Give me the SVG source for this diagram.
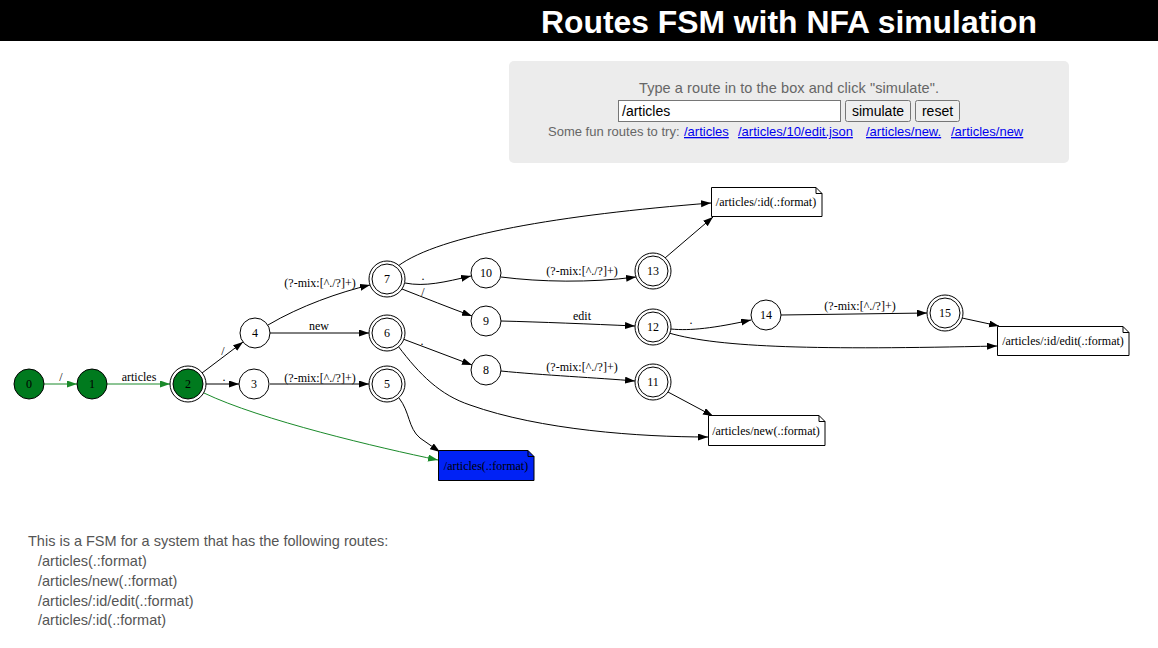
<svg xmlns="http://www.w3.org/2000/svg" width="1158" height="648" viewBox="0 0 1158 648">
<style>
.st{fill:#fff;stroke:#000;stroke-width:1}
.acc{fill:#007a1e;stroke:#000;stroke-width:1}
.lbl{font-family:"Liberation Serif",serif;font-size:12px;fill:#000;text-anchor:middle}
.e{fill:none;stroke:#000;stroke-width:1;marker-end:url(#ah)}
.g{fill:none;stroke:#1a8a2a;stroke-width:1;marker-end:url(#ahg)}
.note{fill:#fff;stroke:#000;stroke-width:1}
.ui{font-family:"Liberation Sans",Arial,sans-serif}
.btn{fill:#efefef;stroke:#767676;stroke-width:1}
.lnk{fill:#0000ee;text-decoration:underline}
</style>
<defs>
<marker id="ah" markerUnits="userSpaceOnUse" markerWidth="10" markerHeight="8" refX="10" refY="3.5" orient="auto"><path d="M0,0 L10,3.5 L0,7 z" fill="#000"/></marker>
<marker id="ahg" markerUnits="userSpaceOnUse" markerWidth="10" markerHeight="8" refX="10" refY="3.5" orient="auto"><path d="M0,0 L10,3.5 L0,7 z" fill="#1a8a2a"/></marker>
</defs>
<rect x="0" y="0" width="1158" height="648" fill="#fff"/>
<rect x="0" y="0" width="1158" height="41" fill="#000"/>
<text x="789" y="33" class="ui" font-size="31" font-weight="bold" fill="#fff" text-anchor="middle" textLength="496" lengthAdjust="spacingAndGlyphs">Routes FSM with NFA simulation</text>

<g id="panel">
<rect x="509" y="61" width="560" height="102" rx="5" fill="#ececec"/>
<text x="789" y="93" class="ui" font-size="14.5" fill="#666" text-anchor="middle" textLength="300">Type a route in to the box and click "simulate".</text>
<rect x="618.5" y="100.5" width="222" height="21" fill="#fff" stroke="#767676"/>
<text x="622" y="116" class="ui" font-size="14" fill="#000">/articles</text>
<rect x="845.5" y="100.5" width="65" height="21" rx="2" class="btn"/>
<text x="878" y="116" class="ui" font-size="14" fill="#000" text-anchor="middle">simulate</text>
<rect x="915.5" y="100.5" width="44" height="21" rx="2" class="btn"/>
<text x="937.5" y="116" class="ui" font-size="14" fill="#000" text-anchor="middle">reset</text>
<text y="136" class="ui" font-size="13" fill="#666"><tspan x="548">Some fun routes to try: </tspan><tspan x="684" class="lnk">/articles</tspan><tspan x="738" class="lnk">/articles/10/edit.json</tspan><tspan x="866" class="lnk">/articles/new.</tspan><tspan x="951" class="lnk">/articles/new</tspan></text>
</g>

<g id="connectors">
<path class="g" d="M44,384 L77,384"/>
<text class="lbl" x="61" y="381">/</text>
<path class="g" d="M107,384 L170,384"/>
<text class="lbl" x="139" y="381">articles</text>
<path class="e" d="M206,384 L239,384"/>
<text class="lbl" x="224" y="381">.</text>
<path class="e" d="M202,373 L243,342"/>
<text class="lbl" x="223" y="355">/</text>
<path class="g" d="M204,393 C260,420 380,448 438,460"/>
<path class="e" d="M270,384 L369,384"/>
<text class="lbl" x="320" y="382">(?-mix:[^./?]+)</text>
<path class="e" d="M270,333 L369,333"/>
<text class="lbl" x="319" y="330">new</text>
<path class="e" d="M268,325 C300,306 340,292 370,285"/>
<text class="lbl" x="320" y="287">(?-mix:[^./?]+)</text>
<path class="e" d="M399,398 C410,412 408,428 420,438 L440,452"/>
<path class="e" d="M403,339 L472,365"/>
<text class="lbl" x="422" y="345">.</text>
<path class="e" d="M398,346 C420,375 440,395 470,405 C540,430 640,437 708,437"/>
<path class="e" d="M405,283 C425,287 445,282 471,276"/>
<text class="lbl" x="423" y="280">.</text>
<path class="e" d="M402,289 C425,298 450,308 472,316"/>
<text class="lbl" x="423" y="296">/</text>
<path class="e" d="M398,266 C440,235 560,215 711,203"/>
<path class="e" d="M501,277 C540,282 590,283 636,277"/>
<text class="lbl" x="582" y="275">(?-mix:[^./?]+)</text>
<path class="e" d="M501,321 C540,322 590,324 635,326"/>
<text class="lbl" x="582" y="320">edit</text>
<path class="e" d="M501,371 C540,375 600,378 635,381"/>
<text class="lbl" x="582" y="371">(?-mix:[^./?]+)</text>
<path class="e" d="M665,258 L713,217"/>
<path class="e" d="M671,329 C690,331 715,328 751,320"/>
<text class="lbl" x="691" y="324">.</text>
<path class="e" d="M669,333 C720,348 820,350 997,346"/>
<path class="e" d="M781,315 L927,313"/>
<text class="lbl" x="860" y="310">(?-mix:[^./?]+)</text>
<path class="e" d="M962,318 L999,326"/>
<path class="e" d="M668,392 L713,416"/>
</g>

<g id="n0"><circle cx="29" cy="384" r="15" class="acc"/><text class="lbl" x="29" y="388">0</text></g>
<g id="n1"><circle cx="92" cy="384" r="15" class="acc"/><text class="lbl" x="92" y="388">1</text></g>
<g id="n2"><circle cx="188" cy="384" r="18" class="st"/><circle cx="188" cy="384" r="15" class="acc"/><text class="lbl" x="188" y="388">2</text></g>
<g id="n3"><circle cx="254" cy="384" r="15" class="st"/><text class="lbl" x="254" y="388">3</text></g>
<g id="n4"><circle cx="255" cy="333" r="15" class="st"/><text class="lbl" x="255" y="337">4</text></g>
<g id="n5"><circle cx="387" cy="384" r="18" class="st"/><circle cx="387" cy="384" r="15" class="st"/><text class="lbl" x="387" y="388">5</text></g>
<g id="n6"><circle cx="387" cy="333" r="18" class="st"/><circle cx="387" cy="333" r="15" class="st"/><text class="lbl" x="387" y="337">6</text></g>
<g id="n7"><circle cx="387" cy="279" r="18" class="st"/><circle cx="387" cy="279" r="15" class="st"/><text class="lbl" x="387" y="283">7</text></g>
<g id="n8"><circle cx="486" cy="370" r="15" class="st"/><text class="lbl" x="486" y="374">8</text></g>
<g id="n9"><circle cx="486" cy="321" r="15" class="st"/><text class="lbl" x="486" y="325">9</text></g>
<g id="n10"><circle cx="486" cy="273" r="15" class="st"/><text class="lbl" x="486" y="277">10</text></g>
<g id="n11"><circle cx="653" cy="382" r="18" class="st"/><circle cx="653" cy="382" r="15" class="st"/><text class="lbl" x="653" y="386">11</text></g>
<g id="n12"><circle cx="653" cy="327" r="18" class="st"/><circle cx="653" cy="327" r="15" class="st"/><text class="lbl" x="653" y="331">12</text></g>
<g id="n13"><circle cx="653" cy="271" r="18" class="st"/><circle cx="653" cy="271" r="15" class="st"/><text class="lbl" x="653" y="275">13</text></g>
<g id="n14"><circle cx="766" cy="315" r="15" class="st"/><text class="lbl" x="766" y="319">14</text></g>
<g id="n15"><circle cx="945" cy="313" r="18" class="st"/><circle cx="945" cy="313" r="15" class="st"/><text class="lbl" x="945" y="317">15</text></g>

<g id="note-id"><path class="note" d="M711.5,187.5 H816 L822,193.5 V216.5 H711.5 Z M816,187.5 V193.5 H822"/><text class="lbl" x="766" y="206">/articles/:id(.:format)</text></g>
<g id="note-edit"><path class="note" d="M997.5,326.5 H1123 L1129,332.5 V355.5 H997.5 Z M1123,326.5 V332.5 H1129"/><text class="lbl" x="1063" y="345">/articles/:id/edit(.:format)</text></g>
<g id="note-new"><path class="note" d="M708.5,415.5 H819 L825,421.5 V445.5 H708.5 Z M819,415.5 V421.5 H825"/><text class="lbl" x="766" y="435">/articles/new(.:format)</text></g>
<g id="note-articles"><path d="M438.5,450.5 H528 L534,456.5 V480.5 H438.5 Z" fill="#0022f5" stroke="#000"/><path d="M528,450.5 V456.5 H534" fill="none" stroke="#000"/><text class="lbl" x="486" y="470">/articles(.:format)</text></g>

<g id="desc" class="ui" font-size="14.5" fill="#555">
<text x="28" y="546">This is a FSM for a system that has the following routes:</text>
<text x="38" y="566">/articles(.:format)</text>
<text x="38" y="586">/articles/new(.:format)</text>
<text x="38" y="606">/articles/:id/edit(.:format)</text>
<text x="38" y="625">/articles/:id(.:format)</text>
</g>
</svg>
